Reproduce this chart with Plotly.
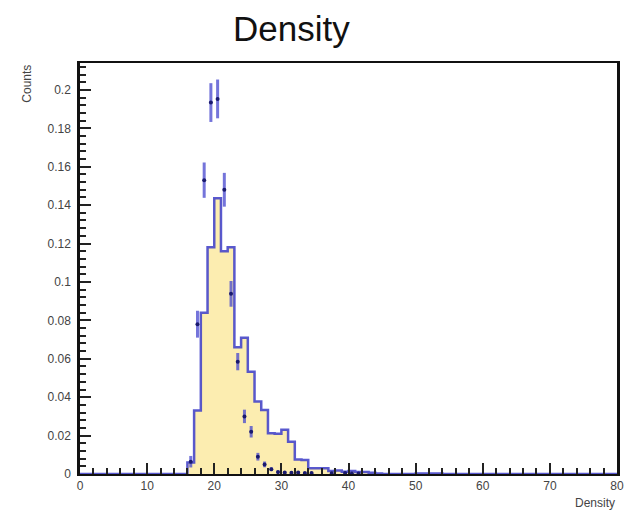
import plotly.graph_objects as go

# ---- data ----
# histogram (simulation): bin k covers [k, k+1], 80 bins from 0 to 80
hist_bins = list(range(0, 80))
hist_nonzero = {
    16: 0.006, 17: 0.033, 18: 0.084, 19: 0.118, 20: 0.1436,
    21: 0.116, 22: 0.118, 23: 0.066, 24: 0.071, 25: 0.0533, 26: 0.0377,
    27: 0.0333, 28: 0.0212, 29: 0.021, 30: 0.023, 31: 0.0168, 32: 0.0075,
    33: 0.0073, 34: 0.003, 35: 0.003, 36: 0.003, 37: 0.0016, 38: 0.0018,
    39: 0.0012, 40: 0.0015, 41: 0.001, 42: 0.001, 43: 0.0006, 44: 0.0003,
    50: 0.0003, 51: 0.0002, 52: 0.0003, 53: 0.0003,
}
hist_vals = [hist_nonzero.get(k, 0.0) for k in hist_bins]

# data points (bin centres, values, errors)
pt_x = [16.5, 17.5, 18.5, 19.5, 20.5, 21.5, 22.5, 23.5, 24.5, 25.5, 26.5,
        27.5, 28.5, 29.5, 30.5, 31.5, 32.5, 33.5, 34.5, 37.5, 39.5, 40.5, 41.5]
pt_y = [0.0064, 0.078, 0.153, 0.1934, 0.1953, 0.148, 0.0938, 0.0585, 0.030,
        0.022, 0.009, 0.005, 0.0025, 0.001, 0.0008, 0.0007, 0.0008, 0.0005,
        0.0005, 0.0004, 0.0005, 0.0003, 0.0003]
pt_err = [0.003, 0.007, 0.0092, 0.0101, 0.0101, 0.0088, 0.0067, 0.0045, 0.0035,
          0.003, 0.002, 0.0015, 0.001, 0.0007, 0.0006, 0.0006, 0.0006, 0.0005,
          0.0005, 0.0004, 0.0004, 0.0003, 0.0003]

x_ticks = [0, 10, 20, 30, 40, 50, 60, 70, 80]
y_ticks = [0, 0.02, 0.04, 0.06, 0.08, 0.1, 0.12, 0.14, 0.16, 0.18, 0.2]
y_tick_text = ["0", "0.02", "0.04", "0.06", "0.08", "0.1", "0.12", "0.14",
               "0.16", "0.18", "0.2"]

# ---- build step line from bins ----
step_x = hist_bins + [80]
step_y = hist_vals + [hist_vals[-1]]

fig = go.Figure()
fig.add_trace(go.Scatter(
    x=step_x, y=step_y, mode="lines", line_shape="hv",
    line=dict(color="rgba(60,60,200,0.85)", width=2.5),
    fill="tozeroy", fillcolor="rgb(252,237,176)",
    hoverinfo="skip", showlegend=False))
fig.add_trace(go.Scatter(
    x=pt_x, y=pt_y, mode="markers",
    marker=dict(color="rgb(25,25,110)", size=4),
    error_y=dict(type="data", array=pt_err, color="rgba(70,70,205,0.75)",
                 thickness=3, width=0),
    showlegend=False))

font_family = "Liberation Sans, Arial, sans-serif"
fig.update_layout(
    width=634, height=515,
    margin=dict(l=80, r=10, t=63, b=41),
    paper_bgcolor="white", plot_bgcolor="white",
    font=dict(family=font_family, color="#333"),
    xaxis=dict(range=[0, 80], tickvals=x_ticks, ticks="inside", ticklen=11,
               tickwidth=1.5, tickcolor="#222", showgrid=False, zeroline=False,
               showline=True, linecolor="#111", linewidth=2, mirror=True,
               tickfont=dict(size=12, color="#444"),
               minor=dict(dtick=2, ticks="inside", ticklen=6, tickwidth=1.5,
                          tickcolor="#222", showgrid=False)),
    yaxis=dict(range=[0, 0.214], tickvals=y_ticks, ticktext=y_tick_text,
               ticks="inside", ticklen=11, tickwidth=1.5, tickcolor="#222",
               showgrid=False, zeroline=False, showline=True,
               linecolor="#111", linewidth=2.5, mirror=True,
               ticklabelstandoff=4,
               tickfont=dict(size=12, color="#444"),
               minor=dict(dtick=0.004, tick0=0, ticks="inside", ticklen=6,
                          tickwidth=1.5, tickcolor="#222", showgrid=False)),
    annotations=[
        dict(text="Density", xref="paper", yref="paper", x=(294 - 80) / 544,
             y=1 + (63 - 28) / 411, xanchor="center", yanchor="middle",
             showarrow=False, font=dict(size=35, color="#111", family=font_family)),
        dict(text="Counts", xref="paper", yref="paper", x=(26 - 80) / 544,
             y=1.0, xanchor="center", yanchor="top", textangle=-90,
             showarrow=False, font=dict(size=12, color="#444", family=font_family)),
        dict(text="Density", xref="paper", yref="paper", x=1.0,
             y=-(503 - 474) / 411, xanchor="right", yanchor="middle",
             showarrow=False, font=dict(size=12, color="#444", family=font_family)),
    ],
)

fig.write_html("out.html")
